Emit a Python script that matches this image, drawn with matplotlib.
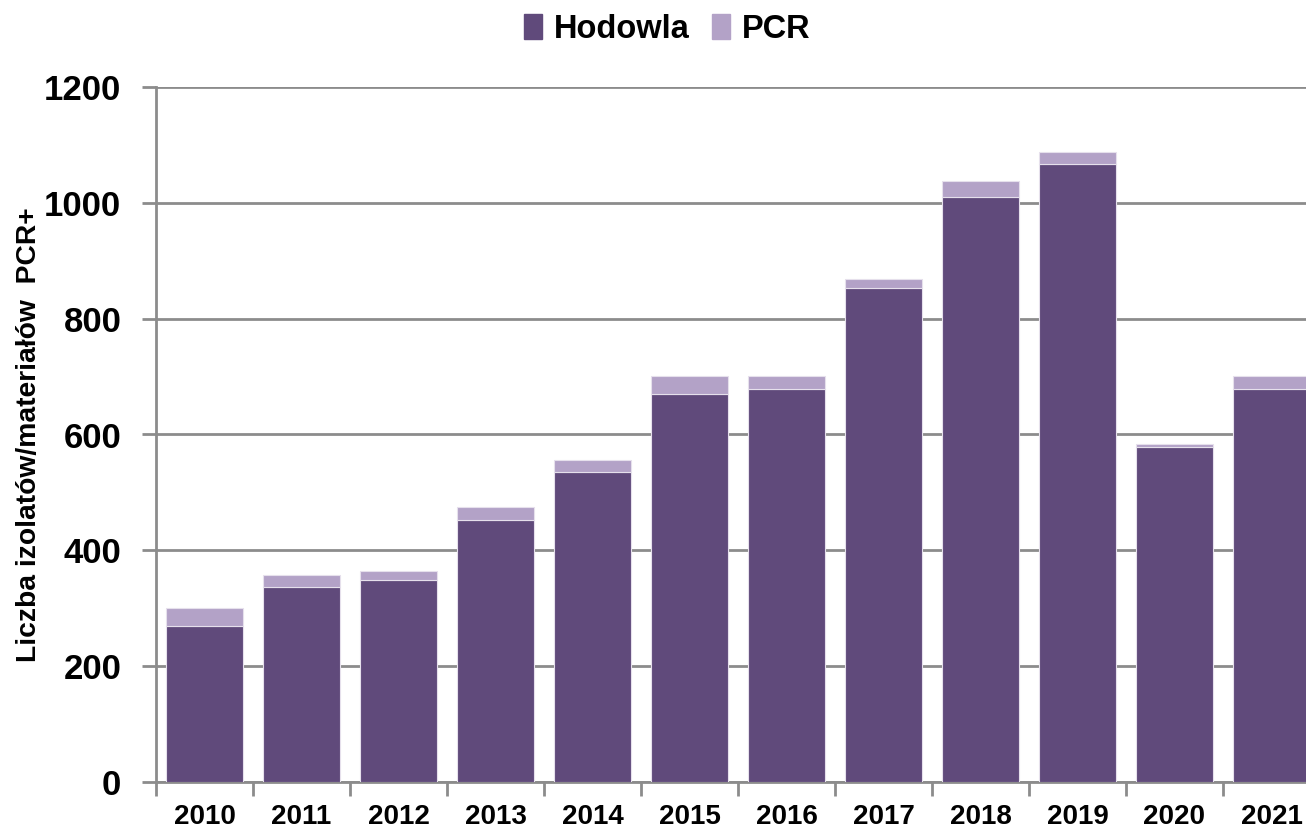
import numpy as np
import matplotlib
matplotlib.use("Agg")
import matplotlib.pyplot as plt
from matplotlib.patches import Patch

plt.rcParams['font.family'] = ['Liberation Sans', 'DejaVu Sans']
plt.rcParams['font.weight'] = 'bold'

years = ['2010', '2011', '2012', '2013', '2014', '2015',
         '2016', '2017', '2018', '2019', '2020', '2021']
hodowla = [269, 337, 349, 452, 536, 670, 678, 853, 1010, 1067, 579, 678]
pcr = [31, 20, 16, 23, 20, 31, 23, 16, 27, 20, 4, 23]

c_hod = '#604A7B'
c_pcr = '#B3A2C7'
grid_c = '#8C8C8C'

fig = plt.figure(figsize=(13.06, 8.33), dpi=100)
# plot area runs a bit past the right edge, like in the original
ax = fig.add_axes([156 / 1306, 1 - 782 / 833, 1164 / 1306, 695 / 833])

x = np.arange(len(years))
ax.bar(x, hodowla, width=0.79, color=c_hod, edgecolor='#E6E0EC', linewidth=0.8, zorder=3)
ax.bar(x, pcr, width=0.79, bottom=hodowla, color=c_pcr, edgecolor='#E6E0EC', linewidth=0.8, zorder=3)

ax.set_xlim(-0.5, len(years) - 0.5)
ax.set_ylim(0, 1200)
ax.set_yticks(np.arange(0, 1201, 200))
ax.yaxis.grid(True, color=grid_c, linewidth=2, zorder=0)
ax.set_axisbelow(True)

ax.set_xticks(x)
ax.set_xticklabels(years, fontsize=20, fontweight='bold')
ax.set_xticks(np.arange(-0.5, len(years)), minor=True)
ax.tick_params(axis='x', which='major', length=0, pad=16)
ax.tick_params(axis='x', which='minor', length=10, width=2, color=grid_c, direction='out')
ax.tick_params(axis='y', length=10, width=2, color=grid_c, direction='out', pad=15, labelsize=25)
for lab in ax.get_yticklabels():
    lab.set_fontweight('bold')

for s in ['top', 'right']:
    ax.spines[s].set_visible(False)
for s in ['left', 'bottom']:
    ax.spines[s].set_color(grid_c)
    ax.spines[s].set_linewidth(2)

ax.set_ylabel('Liczba izolatów/materiałów  PCR+', fontsize=20.3, fontweight='bold')
ax.yaxis.set_label_coords(-0.098, 0.5)

handles = [Patch(color=c_hod, label='Hodowla'), Patch(color=c_pcr, label='PCR')]
fig.legend(handles=handles, loc='center', bbox_to_anchor=(0.511, 0.965), ncol=2,
           frameon=False, prop={'size': 23.5, 'weight': 'bold'},
           handlelength=0.55, handleheight=0.8, handletextpad=0.35, columnspacing=0.7)

fig.savefig('out.png', dpi=100)
